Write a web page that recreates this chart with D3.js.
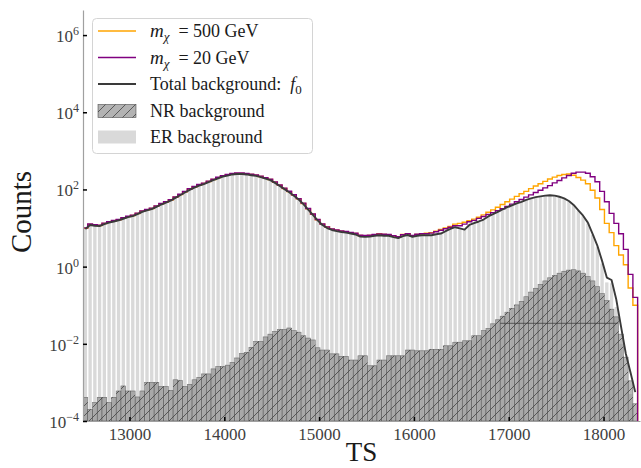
<!DOCTYPE html>
<html>
<head>
<meta charset="utf-8">
<script src="https://cdn.jsdelivr.net/npm/d3@7"></script>
<style>
body { margin: 0; background: #fff; }
svg text { font-family: 'Liberation Serif', 'Times New Roman', serif; }
</style>
</head>
<body>
<div id="chart"></div>
<script>
'use strict';

// histogram binning (TS units)
const binStart = 12510;
const binWidth = 50;

const xTicks = [13000, 14000, 15000, 16000, 17000, 18000];
const yTicks = [1e-4, 1e-2, 1, 1e2, 1e4, 1e6];

// total background f0 (line through bin centres)
const totalBackground = [
    9.5, 12.0, 11.5, 11.2, 12.6, 13.8, 14.8, 15.8, 17.4, 19.1,
    20.4, 22.9, 26.3, 28.8, 30.9, 35.5, 40.7, 45.7, 51.3, 60.3,
    70.8, 83.2, 97.7, 112, 126, 138, 155, 174, 195, 214,
    229, 245, 251, 251, 245, 234, 224, 209, 191, 174,
    148, 123, 102, 85, 69, 55, 41.7, 30.2, 21.9, 15.8,
    12.0, 10.0, 8.9, 8.3, 7.9, 7.6, 7.2, 6.8, 6.0, 5.9,
    6.0, 6.3, 6.5, 6.3, 6.3, 5.8, 5.5, 6.2, 6.6, 5.9,
    6.3, 6.5, 6.5, 6.5, 6.9, 7.2, 8.3, 9.5, 10.5, 9.8,
    9.1, 12.0, 13.5, 14.8, 16.6, 20.0, 22.9, 26.3, 30.2, 34.7,
    38.9, 43.7, 47.9, 53.7, 58.9, 63.1, 66.1, 69.2, 70.8, 69.2,
    64.6, 58.9, 50.1, 39.8, 28.8, 20.9, 13.8, 7.1, 3.5, 1.41,
    0.52, 0.45, 0.14, 0.028, 0.0056, 0.0018, 0.00056
];

// ER background bars
const erBackground = [
    9.5, 12.0, 11.5, 11.2, 12.6, 13.8, 14.8, 15.8, 17.4, 19.1,
    20.4, 22.9, 26.3, 28.8, 30.9, 35.5, 40.7, 45.7, 51.3, 60.3,
    70.8, 83.2, 97.7, 112, 126, 138, 155, 174, 195, 214,
    229, 245, 251, 251, 245, 234, 224, 209, 191, 174,
    148, 123, 102, 85, 69, 55, 41.7, 30.2, 21.9, 15.8,
    12.0, 10.0, 8.9, 8.3, 7.9, 7.6, 7.2, 6.8, 6.0, 5.9,
    6.0, 6.3, 6.5, 6.3, 6.3, 5.8, 5.5, 6.2, 6.6, 5.9,
    6.3, 6.5, 6.5, 6.5, 6.9, 7.2, 8.3, 9.5, 10.5, 9.8,
    9.1, 12.0, 13.5, 14.8, 16.6, 20.0, 22.9, 26.3, 30.2, 34.6,
    38.8, 43.6, 47.8, 53.5, 58.7, 62.8, 65.8, 68.8, 70.3, 68.6,
    63.9, 58.1, 49.3, 39.0, 28.0, 20.2, 13.2, 6.7, 3.2, 1.2,
    0.39, 0.37, 0.09, 0.010, 0.0011, 0.0005, 0
];

// NR background bars
const nrBackground = [
    4.1e-4, 2.0e-4, 3.0e-4, 4.1e-4, 4.1e-4, 3.0e-4, 4.1e-4, 6.0e-4, 8.1e-4, 6.0e-4,
    6.0e-4, 4.2e-4, 6.0e-4, 1.0e-3, 1.0e-3, 1.0e-3, 7.8e-4, 7.8e-4, 6.2e-4, 1.17e-3,
    1.12e-3, 7.8e-4, 8.9e-4, 1.17e-3, 1.35e-3, 1.66e-3, 1.66e-3, 2.24e-3, 2.57e-3, 2.57e-3,
    2.8e-3, 3.3e-3, 4.3e-3, 5.6e-3, 6.0e-3, 8.1e-3, 0.0115, 0.0115, 0.0151, 0.0178,
    0.0209, 0.0234, 0.0234, 0.0257, 0.0219, 0.0200, 0.0162, 0.0141, 0.0126, 0.0079,
    0.0069, 0.0069, 0.0055, 0.0055, 0.0047, 0.0047, 0.0038, 0.0038, 0.0049, 0.0049,
    0.0027, 0.0027, 0.0038, 0.0038, 0.0049, 0.0049, 0.0049, 0.0049, 0.0069, 0.0069,
    0.0066, 0.0066, 0.0066, 0.0072, 0.0072, 0.0072, 0.0089, 0.0089, 0.011, 0.011,
    0.012, 0.012, 0.0162, 0.0162, 0.0219, 0.025, 0.033, 0.042, 0.052, 0.066,
    0.083, 0.102, 0.126, 0.166, 0.219, 0.275, 0.347, 0.427, 0.513, 0.589,
    0.676, 0.759, 0.813, 0.832, 0.776, 0.676, 0.550, 0.427, 0.302, 0.200,
    0.132, 0.079, 0.050, 0.0178, 0.0045, 0.0011, 0.00028
];

// signal + background, m_chi = 500 GeV
const signal500 = [
    9.8, 12.4, 11.9, 11.6, 13.1, 14.3, 15.4, 16.4, 18.1, 19.8,
    21.2, 23.8, 27.3, 29.9, 32.1, 36.9, 42.3, 47.5, 53.3, 62.7,
    73.6, 86.5, 102, 116, 131, 144, 161, 181, 203, 223,
    238, 255, 261, 261, 255, 243, 233, 217, 199, 181,
    154, 128, 106, 88, 72, 57, 43.4, 31.4, 22.8, 16.4,
    12.6, 10.6, 9.4, 8.8, 8.3, 8.0, 7.6, 7.2, 6.4, 6.3,
    6.4, 6.7, 7.1, 6.8, 6.7, 6.2, 5.9, 6.8, 7.1, 6.3,
    6.8, 7.0, 7.3, 7.6, 8.3, 9.2, 10.0, 11.0, 12.6, 13.2,
    14.1, 15.5, 17.0, 19.1, 21.9, 25.7, 29.5, 34.7, 40.7, 47.9,
    56.2, 66.1, 77.6, 89.1, 105, 123, 141, 162, 186, 209,
    229, 245, 251, 234, 204, 174, 141, 95.5, 60.3, 30.2,
    13.2, 7.6, 3.5, 2.0, 1.12, 0.28, 0.10
];

// signal + background, m_chi = 20 GeV
const signal20 = [
    10.1, 12.7, 12.2, 11.9, 13.4, 14.6, 15.7, 16.7, 18.4, 20.2,
    21.6, 24.3, 27.9, 30.5, 32.8, 37.6, 43.1, 48.4, 54.4, 63.9,
    75.0, 88.2, 104, 119, 134, 146, 164, 184, 207, 227,
    243, 260, 266, 266, 260, 248, 237, 222, 202, 184,
    157, 130, 108, 90, 73, 58, 44.2, 32.0, 23.2, 16.7,
    12.7, 10.7, 9.5, 8.9, 8.4, 8.1, 7.7, 7.3, 6.5, 6.4,
    6.5, 6.8, 7.0, 6.9, 6.8, 6.3, 6.0, 6.7, 7.1, 6.4,
    6.9, 7.1, 7.1, 7.4, 8.0, 8.8, 9.6, 10.5, 11.5, 11.5,
    12.6, 14.5, 15.8, 17.8, 20.0, 22.4, 25.1, 28.2, 31.6, 36.3,
    41.7, 47.9, 55.0, 63.1, 72.4, 83.2, 95.5, 110, 126, 148,
    170, 200, 229, 263, 282, 282, 263, 214, 158, 89.1,
    47.9, 24.0, 13.2, 7.1, 2.8, 0.63, 0.16
];

// faint horizontal edge left by the NR bars
const nrGuideRange = [16910, 18150];
const nrGuideLevel = 0.034;

const width = 641, height = 468;
const plotLeft = 83, plotRight = 640, plotTop = 10, plotBottom = 421;

const edge = i => binStart + i * binWidth;

const x = d3.scaleLinear().domain([12510, 18385]).range([plotLeft, plotRight]);
const y = d3.scaleLog().domain([1e-4, Math.pow(10, 6.65)]).range([plotBottom, plotTop]);

const svg = d3.select('#chart').append('svg')
    .attr('width', width)
    .attr('height', height);

const defs = svg.append('defs');
defs.append('clipPath').attr('id', 'plot-clip')
    .append('rect')
    .attr('x', plotLeft).attr('y', plotTop)
    .attr('width', plotRight - plotLeft + 1).attr('height', plotBottom - plotTop);

const hatch = defs.append('pattern')
    .attr('id', 'hatch')
    .attr('patternUnits', 'userSpaceOnUse')
    .attr('width', 10).attr('height', 10);
hatch.append('path')
    .attr('d', 'M-1,1 l2,-2 M0,10 l10,-10 M9,11 l2,-2')
    .attr('stroke', '#333')
    .attr('stroke-width', 0.7);

const plot = svg.append('g').attr('clip-path', 'url(#plot-clip)');

// ER bars
plot.append('g').selectAll('rect')
    .data(erBackground.map((v, i) => ({ i, v })).filter(d => d.v > 0))
    .join('rect')
    .attr('x', d => x(edge(d.i)) + 0.7)
    .attr('width', d => x(edge(d.i + 1)) - x(edge(d.i)) - 1.4)
    .attr('y', d => y(d.v))
    .attr('height', d => plotBottom - y(d.v))
    .attr('fill', '#d9d9d9');

// NR bars: translucent grey + hatch
const nrData = nrBackground.map((v, i) => ({ i, v }));
const nrG = plot.append('g');
nrG.selectAll('rect.nr')
    .data(nrData)
    .join('rect')
    .classed('nr', true)
    .attr('x', d => x(edge(d.i)))
    .attr('width', d => x(edge(d.i + 1)) - x(edge(d.i)))
    .attr('y', d => y(d.v))
    .attr('height', d => plotBottom - y(d.v))
    .attr('fill', '#808080')
    .attr('fill-opacity', 0.55)
    .attr('stroke', '#303030')
    .attr('stroke-opacity', 0.6)
    .attr('stroke-width', 0.6);
nrG.selectAll('rect.hatch')
    .data(nrData)
    .join('rect')
    .classed('hatch', true)
    .attr('x', d => x(edge(d.i)))
    .attr('width', d => x(edge(d.i + 1)) - x(edge(d.i)))
    .attr('y', d => y(d.v))
    .attr('height', d => plotBottom - y(d.v))
    .attr('fill', 'url(#hatch)');

plot.append('line')
    .attr('x1', x(nrGuideRange[0])).attr('x2', x(nrGuideRange[1]))
    .attr('y1', y(nrGuideLevel)).attr('y2', y(nrGuideLevel))
    .attr('stroke', '#333')
    .attr('stroke-width', 0.7);

function stepPath(vals) {
    const base = plotBottom + 3;
    const pts = [[x(edge(0)), base]];
    vals.forEach((v, i) => {
        pts.push([x(edge(i)), y(v)]);
        pts.push([x(edge(i + 1)), y(v)]);
    });
    pts.push([x(edge(vals.length)), base]);
    return d3.line()(pts);
}

plot.append('path')
    .attr('d', stepPath(signal500))
    .attr('fill', 'none')
    .attr('stroke', '#ffa500')
    .attr('stroke-width', 1.4);

plot.append('path')
    .attr('d', stepPath(signal20))
    .attr('fill', 'none')
    .attr('stroke', '#800080')
    .attr('stroke-width', 1.4);

plot.append('path')
    .datum(totalBackground)
    .attr('d', d3.line()
        .x((d, i) => x(edge(i) + binWidth / 2))
        .y(d => y(d)))
    .attr('fill', 'none')
    .attr('stroke', '#3a3a3a')
    .attr('stroke-width', 1.9)
    .attr('stroke-linejoin', 'round');

// axes
const xAxis = svg.append('g')
    .attr('transform', `translate(0,${plotBottom})`)
    .call(d3.axisBottom(x).tickValues(xTicks).tickSizeInner(-4).tickSizeOuter(0).tickPadding(7).tickFormat(d3.format('d')));
xAxis.select('.domain').attr('stroke', '#a0a0a0').attr('stroke-width', 1.2);
xAxis.selectAll('.tick line').attr('stroke', '#000').attr('stroke-width', 1.5);
xAxis.selectAll('.tick text')
    .attr('font-size', 17)
    .attr('fill', '#404040')
    .attr('font-family', "'Liberation Serif', serif");

const yAxis = svg.append('g')
    .attr('transform', `translate(${plotLeft},0)`)
    .call(d3.axisLeft(y).tickValues(yTicks).tickSizeInner(-4).tickSizeOuter(0).tickFormat(''));
yAxis.select('.domain').attr('stroke', '#a0a0a0').attr('stroke-width', 1.2);
yAxis.selectAll('.tick line').attr('stroke', '#000').attr('stroke-width', 1.5);

const yLabels = svg.append('g');
yTicks.forEach(t => {
    const label = yLabels.append('text')
        .attr('x', 79)
        .attr('y', y(t) + 7)
        .attr('text-anchor', 'end')
        .attr('font-size', 17)
        .attr('fill', '#404040');
    label.append('tspan').text('10');
    label.append('tspan')
        .attr('font-size', 12)
        .attr('dy', -7)
        .text(String(Math.round(Math.log10(t))).replace('-', '\u2212'));
});

svg.append('text')
    .attr('transform', `translate(31,212) rotate(-90)`)
    .attr('text-anchor', 'middle')
    .attr('font-size', 29)
    .attr('fill', '#1a1a1a')
    .text('Counts');

svg.append('text')
    .attr('x', (plotLeft + plotRight) / 2)
    .attr('y', 461)
    .attr('text-anchor', 'middle')
    .attr('font-size', 27)
    .attr('fill', '#1a1a1a')
    .text('TS');

// legend
const legend = svg.append('g');
legend.append('rect')
    .attr('x', 92.5).attr('y', 18.5)
    .attr('width', 220).attr('height', 135)
    .attr('rx', 4)
    .attr('fill', '#fff')
    .attr('fill-opacity', 0.85)
    .attr('stroke', '#d4d4d4');

const rowY = [31, 57.5, 84, 111, 137];
const lineItems = [
    { color: '#ffa500', width: 1.4, row: 0 },
    { color: '#800080', width: 1.4, row: 1 },
    { color: '#3a3a3a', width: 1.9, row: 2 }
];
lineItems.forEach(d => {
    legend.append('line')
        .attr('x1', 98).attr('x2', 136)
        .attr('y1', rowY[d.row]).attr('y2', rowY[d.row])
        .attr('stroke', d.color)
        .attr('stroke-width', d.width);
});

legend.append('rect')
    .attr('x', 98).attr('y', rowY[3] - 6.5).attr('width', 38).attr('height', 13)
    .attr('fill', '#808080').attr('fill-opacity', 0.6)
    .attr('stroke', '#303030').attr('stroke-opacity', 0.7).attr('stroke-width', 0.7);
legend.append('rect')
    .attr('x', 98).attr('y', rowY[3] - 6.5).attr('width', 38).attr('height', 13)
    .attr('fill', 'url(#hatch)');
legend.append('rect')
    .attr('x', 98).attr('y', rowY[4] - 6.5).attr('width', 38).attr('height', 13)
    .attr('fill', '#d9d9d9');

const textX = 150;
function legendText(row) {
    return legend.append('text')
        .attr('x', textX)
        .attr('y', rowY[row] + 6)
        .attr('font-size', 18)
        .attr('fill', '#1a1a1a');
}
function massLabel(row, mass) {
    const t = legendText(row);
    t.append('tspan').attr('font-style', 'italic').attr('font-size', 19).text('m');
    t.append('tspan').attr('font-style', 'italic').attr('font-size', 13).attr('dy', 4).text('\u03c7');
    t.append('tspan').attr('dy', -4).text(`\u2002= ${mass} GeV`);
}
massLabel(0, 500);
massLabel(1, 20);
const tot = legendText(2);
tot.append('tspan').text('Total background:\u2002');
tot.append('tspan').attr('font-style', 'italic').text('f');
tot.append('tspan').attr('font-size', 13).attr('dy', 4).text('0');
legendText(3).text('NR background');
legendText(4).text('ER background');
</script>
</body>
</html>
